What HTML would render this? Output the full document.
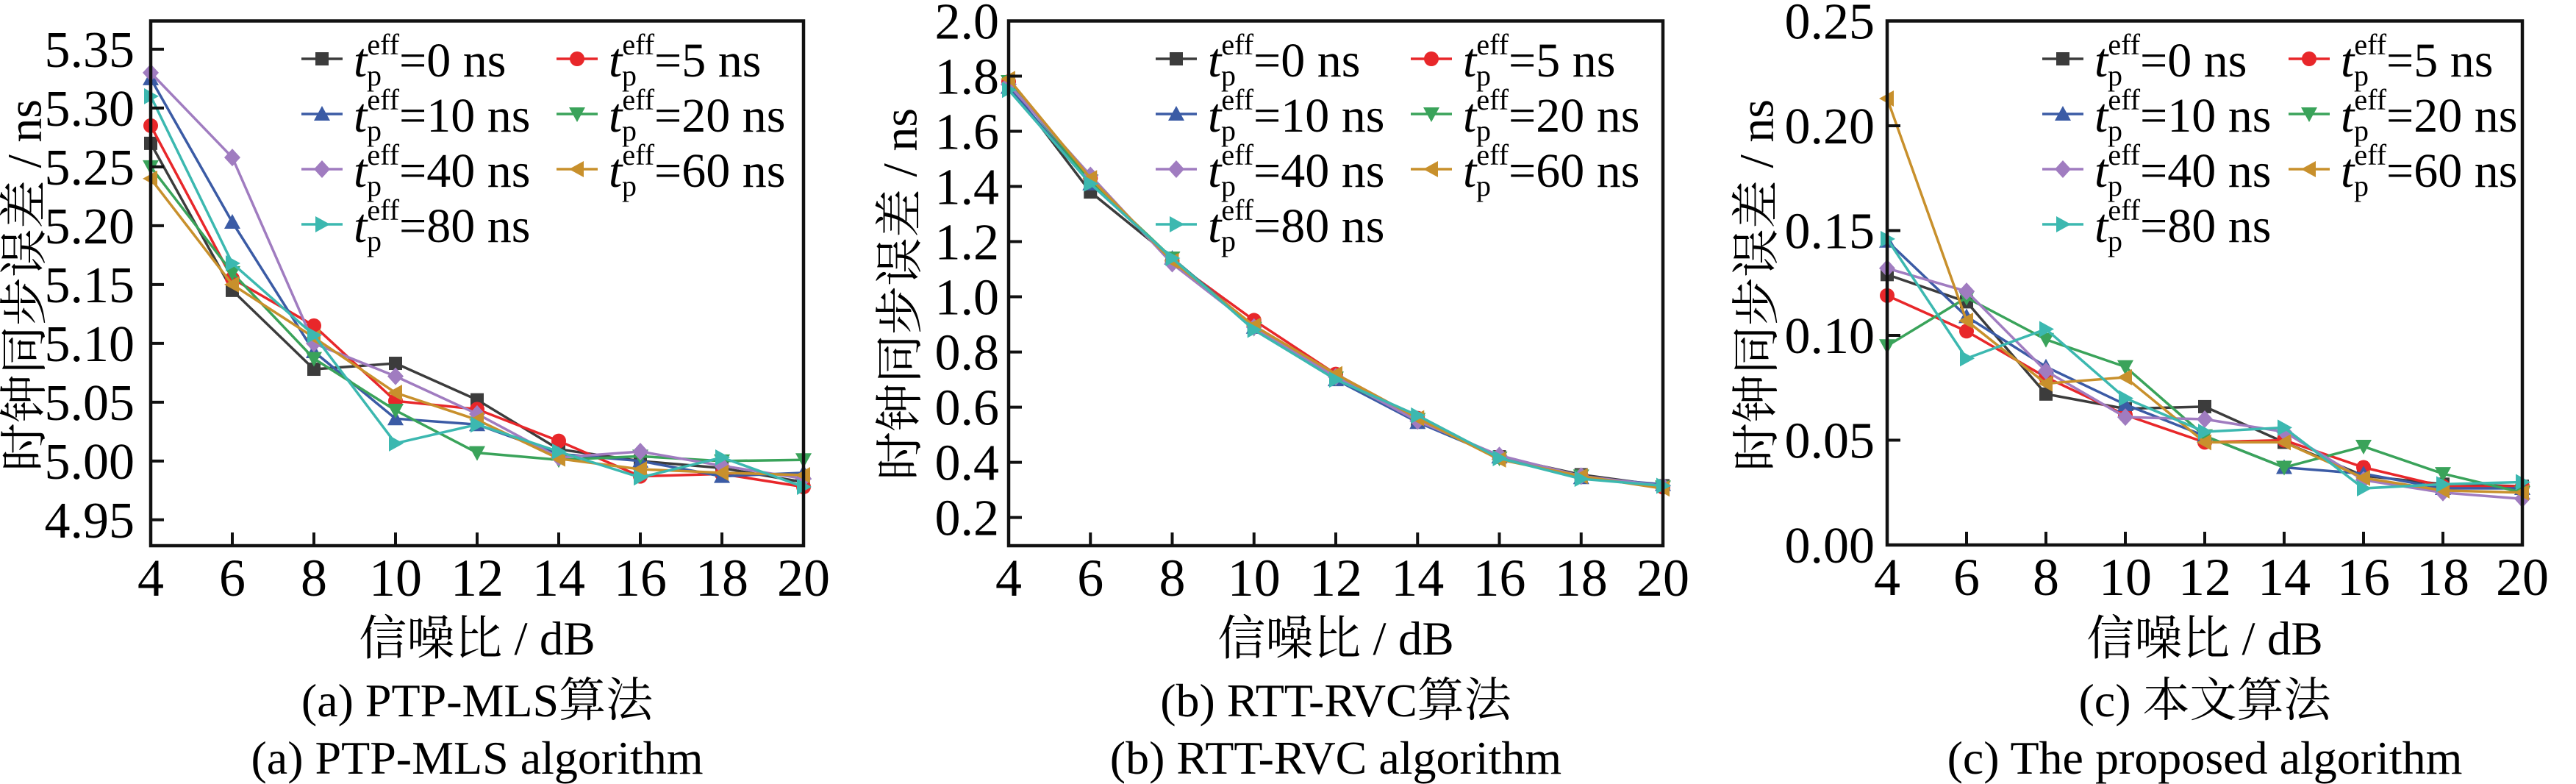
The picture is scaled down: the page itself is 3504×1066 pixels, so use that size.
<!DOCTYPE html>
<html><head><meta charset="utf-8"><style>
html,body{margin:0;padding:0;background:#fff;}
svg{display:block;font-family:"Liberation Serif","Noto Serif CJK SC",serif;}
</style></head><body>
<svg id="s" width="3504" height="1066" xmlns="http://www.w3.org/2000/svg"></svg>
<script>
const S=document.getElementById('s');let h='';
const cols=['#3c3c3c','#e8272a','#3b5ba5','#3aa35a','#a07cc0','#c8902c','#3cb8b0'];
const labs=['0','5','10','20','40','60','80'];
const xs=[4,6,8,10,12,14,16,18,20];
function marker(k,x,y,c){const r=9;
 switch(k){
 case 0:return `<rect x="${x-r}" y="${y-r}" width="${2*r}" height="${2*r}" fill="${c}"/>`;
 case 1:return `<circle cx="${x}" cy="${y}" r="${r+1}" fill="${c}"/>`;
 case 2:return `<polygon points="${x},${y-r-2} ${x-r-2},${y+r} ${x+r+2},${y+r}" fill="${c}"/>`;
 case 3:return `<polygon points="${x},${y+r+2} ${x-r-2},${y-r} ${x+r+2},${y-r}" fill="${c}"/>`;
 case 4:return `<polygon points="${x},${y-r-3} ${x+r+2},${y} ${x},${y+r+3} ${x-r-2},${y}" fill="${c}"/>`;
 case 5:return `<polygon points="${x-r-2},${y} ${x+r},${y-r-2} ${x+r},${y+r+2}" fill="${c}"/>`;
 case 6:return `<polygon points="${x+r+2},${y} ${x-r},${y-r-2} ${x-r},${y+r+2}" fill="${c}"/>`;}}
function panel(P){
 const {L,R,T,B,ymin,ymax,ticks,fmt,data,ytx,ycx,ycy,lc1,lc2,cap1,cap2}=P;
 const X=v=>L+(v-4)/16*(R-L), Y=v=>B-(v-ymin)/(ymax-ymin)*(B-T);
 data.forEach((d,i)=>{h+=`<polyline fill="none" stroke="${cols[i]}" stroke-width="3.5" points="${d.map((v,j)=>X(xs[j])+','+Y(v)).join(' ')}"/>`;
  d.forEach((v,j)=>h+=marker(i,X(xs[j]),Y(v),cols[i]));});
 h+=`<rect x="${L}" y="${T}" width="${R-L}" height="${B-T}" fill="none" stroke="#111" stroke-width="4.5"/>`;
 xs.forEach(v=>{const x=X(v);h+=`<line x1="${x}" y1="${B}" x2="${x}" y2="${B-18}" stroke="#111" stroke-width="4"/><text x="${x}" y="${B+68}" font-size="72" text-anchor="middle">${v}</text>`;});
 ticks.forEach(v=>{const y=Y(v);h+=`<line x1="${L}" y1="${y}" x2="${L+18}" y2="${y}" stroke="#111" stroke-width="4"/><text x="${ytx}" y="${y+24}" font-size="70" text-anchor="end">${fmt(v)}</text>`;});
 h+=`<text transform="translate(${ycx},${ycy}) rotate(-90)" font-size="66" text-anchor="middle" dominant-baseline="central">时钟同步误差 / ns</text>`;
 const cx=(L+R)/2;
 h+=`<text x="${cx}" y="${890}" font-size="65" text-anchor="middle">信噪比 / dB</text>`;
 h+=`<text x="${cx}" y="${974}" font-size="64" text-anchor="middle">${cap1}</text>`;
 h+=`<text x="${cx}" y="${1052}" font-size="64" text-anchor="middle">${cap2}</text>`;
 for(let i=0;i<7;i++){const c=i%2, r=Math.floor(i/2);const lx=c?lc2:lc1, y=80+r*75;
  h+=`<line x1="${lx}" y1="${y}" x2="${lx+56}" y2="${y}" stroke="${cols[i]}" stroke-width="3.5"/>`+marker(i,lx+28,y,cols[i]);
  const tx=lx+71;
  h+=`<text x="${tx}" y="${y+24}" font-size="66"><tspan font-style="italic">t</tspan><tspan font-size="40" dy="-30">eff</tspan><tspan font-size="40" dx="-44" dy="42">p</tspan><tspan dx="24" dy="-12">=${labs[i]} ns</tspan></text>`;}
}
panel({L:205,R:1093,T:28.5,B:742,ymin:4.928,ymax:5.374,ticks:[4.95,5.0,5.05,5.1,5.15,5.2,5.25,5.3,5.35],fmt:v=>v.toFixed(2),ytx:183,ycx:34,ycy:388,lc1:410,lc2:757,cap1:'(a) PTP-MLS算法',cap2:'(a) PTP-MLS algorithm',
data:[[5.27,5.145,5.078,5.083,5.052,5.01,5.0,4.994,4.982],
[5.285,5.155,5.115,5.051,5.044,5.017,4.987,4.989,4.978],
[5.325,5.203,5.093,5.036,5.031,5.006,5.0,4.987,4.99],
[5.25,5.16,5.087,5.043,5.007,5.001,5.004,5.0,5.001],
[5.33,5.258,5.1,5.072,5.04,5.003,5.008,4.996,4.985],
[5.24,5.15,5.105,5.058,5.035,5.002,4.993,4.99,4.988],
[5.31,5.168,5.107,5.015,5.031,5.008,4.986,5.003,4.978]]});
panel({L:1372,R:2262,T:28.5,B:742,ymin:0.0976,ymax:2.0,ticks:[0.2,0.4,0.6,0.8,1.0,1.2,1.4,1.6,1.8,2.0],fmt:v=>v.toFixed(1),ytx:1359,ycx:1225,ycy:400,lc1:1572,lc2:1919,cap1:'(b) RTT-RVC算法',cap2:'(b) RTT-RVC algorithm',
data:[[1.77,1.38,1.14,0.89,0.71,0.55,0.42,0.355,0.315],
[1.78,1.43,1.13,0.915,0.72,0.56,0.42,0.35,0.31],
[1.76,1.41,1.14,0.89,0.70,0.545,0.42,0.345,0.32],
[1.78,1.42,1.14,0.885,0.705,0.555,0.415,0.35,0.31],
[1.77,1.44,1.12,0.89,0.71,0.55,0.425,0.35,0.315],
[1.79,1.43,1.13,0.895,0.72,0.56,0.41,0.35,0.305],
[1.75,1.41,1.14,0.88,0.70,0.57,0.415,0.34,0.315]]});
panel({L:2567,R:3431,T:28.5,B:741,ymin:0,ymax:0.25,ticks:[0,0.05,0.1,0.15,0.2,0.25],fmt:v=>v.toFixed(2),ytx:2550,ycx:2390,ycy:388,lc1:2778,lc2:3113,cap1:'(c) 本文算法',cap2:'(c) The proposed algorithm',
data:[[0.129,0.116,0.072,0.065,0.066,0.049,0.033,0.029,0.028],
[0.119,0.102,0.08,0.062,0.049,0.05,0.037,0.028,0.028],
[0.145,0.109,0.085,0.067,0.052,0.037,0.034,0.027,0.027],
[0.095,0.118,0.098,0.085,0.052,0.037,0.047,0.034,0.025],
[0.132,0.121,0.083,0.061,0.06,0.054,0.031,0.025,0.022],
[0.213,0.107,0.077,0.08,0.049,0.049,0.032,0.026,0.025],
[0.146,0.089,0.103,0.07,0.054,0.056,0.027,0.029,0.030]]});
S.innerHTML=h;
</script>
</body></html>
